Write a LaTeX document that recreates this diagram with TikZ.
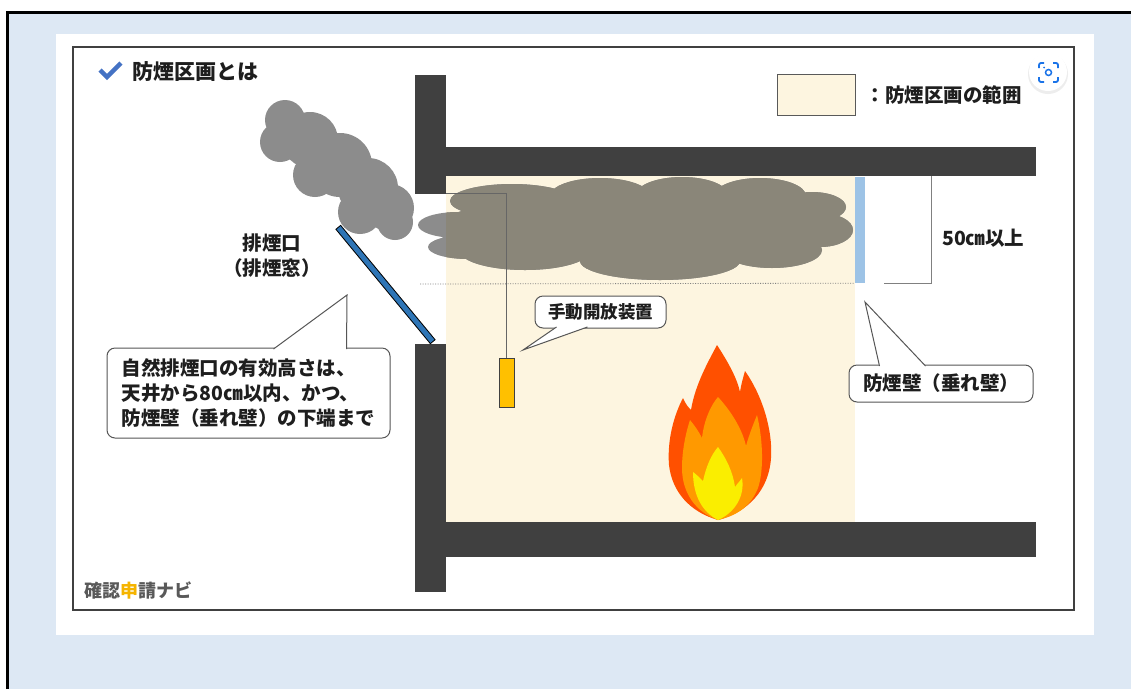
\documentclass[tikz,border=0pt]{standalone}
\usepackage{fontspec}
\setmainfont{Noto Sans CJK JP}
\usetikzlibrary{positioning, calc}
\definecolor{bgblue}{RGB}{221,232,244}
\definecolor{wallgray}{RGB}{64,64,64}
\definecolor{zonebeige}{RGB}{253,245,224}
\definecolor{smokegray}{RGB}{140,140,140}
\definecolor{smokebrown}{RGB}{138,134,121}
\definecolor{curtainblue}{RGB}{157,195,230}
\definecolor{ventblue}{RGB}{46,117,182}
\definecolor{handleyellow}{RGB}{255,192,0}
\definecolor{checkblue}{RGB}{68,114,196}
\definecolor{lensblue}{RGB}{26,115,232}
\definecolor{flamered}{RGB}{255,80,0}
\definecolor{flameorange}{RGB}{255,153,0}
\definecolor{flameyellow}{RGB}{250,238,0}
\definecolor{txtdark}{RGB}{30,30,30}
\definecolor{logogray}{RGB}{89,89,89}
\definecolor{logoyellow}{RGB}{245,180,0}
\tikzset{
  wall/.style={fill=wallgray},
  lbl/.style={text=txtdark, inner sep=0pt, font=\bfseries\fontsize{19.5}{25}\selectfont},
  callout/.style={draw=txtdark!75, line width=1pt, fill=white, rounded corners=8pt, inner sep=0pt,
    text=txtdark, font=\bfseries\fontsize{19.5}{25}\selectfont},
  tail/.style={draw=txtdark!75, line width=1pt, fill=white},
  cord/.style={draw=wallgray!80, line width=0.8pt},
}
% lobes of the smoke layer under the ceiling
\newcommand{\ceilingsmoke}[1]{%
  \fill[#1] \foreach \cx/\cy/\rx/\ry in {512/201/62/17, 600/196/50/18, 682/195/46/18, 760/196/46/18,
      812/207/34/15, 820/230/33/17, 772/250/50/18, 660/261/80/19, 525/251/65/19,
      458/225/40/13, 468/247/40/12, 635/228/200/34}
    { (\cx,\cy) ellipse [x radius=\rx, y radius=\ry] };%
}

\begin{document}
\begin{tikzpicture}[x=1pt, y=-1pt]
  \useasboundingbox (0,0) rectangle (1131,689);
  % page and frame
  \fill[white] (0,0) rectangle (1131,689);
  \fill[bgblue] (7,12) rectangle (1131,689);
  \draw[line width=3pt] (7,689) -- (7,12) -- (1131,12);
  \fill[white] (56,34) rectangle (1094,635);
  \draw[wallgray, line width=1.2pt] (73,47) rectangle (1074,610);

  % title
  \draw[checkblue, line width=4.5pt] (100,70) -- (107,77) -- (121,63);
  \node[anchor=west, text=txtdark, inner sep=0pt, font=\bfseries\fontsize{21}{25}\selectfont] (title) at (132,72) {防煙区画とは};

  % legend
  \node[draw=logogray, fill=zonebeige, line width=0.8pt, minimum width=78pt, minimum height=41pt, inner sep=0pt] (legend) at (816,95) {};
  \node[lbl, right=10pt of legend] (legendtxt) {：防煙区画の範囲};

  % smoke compartment
  \fill[zonebeige] (446,176) rectangle (855,522);
  \ceilingsmoke{smokegray}
  \begin{scope}
    \clip (446,176) rectangle (855,522);
    \ceilingsmoke{smokebrown}
  \end{scope}

  % smoke leaving through the vent
  \fill[smokegray] \foreach \cx/\cy/\r in {285/120/20, 280/142/20, 310/140/28, 340/165/32, 368/188/30,
      390/208/24, 395/222/18, 360/212/22, 315/175/22}
    { (\cx,\cy) circle [radius=\r] };

  % walls, ceiling and floor
  \fill[wall] (415,75) rectangle (446,194);
  \fill[wall] (446,147) rectangle (1036,176);
  \fill[wall] (415,344) rectangle (446,592);
  \fill[wall] (446,522) rectangle (1036,557);

  % hanging wall and its depth
  \node[fill=curtainblue, minimum width=10pt, minimum height=106pt, inner sep=0pt] (curtain) at (860,230) {};
  \draw[gray, line width=0.8pt, dash pattern=on 1pt off 1.5pt] (420,284) -- (curtain.south west);
  \coordinate (dimtop) at (931,176);
  \draw[gray, line width=0.9pt] (884,283) -| (dimtop);
  \node[lbl, anchor=west] (dimlbl) at (942,238) {50㎝以上};

  % vent window
  \coordinate (venttop) at (338,227);
  \coordinate (ventbot) at (433,342);
  \draw[line width=7pt] (venttop) -- (ventbot);
  \draw[ventblue, line width=5pt, shorten <=1pt, shorten >=1pt] (venttop) -- (ventbot);
  \node[lbl, align=center] (ventlbl) at (272,256) {排煙口\\（排煙窓）};

  % manual release
  \node[draw=wallgray, fill=handleyellow, line width=0.8pt, minimum width=15pt, minimum height=49pt, inner sep=0pt] (handle) at (506.5,382.5) {};
  \coordinate (hook) at (446,193);
  \draw[cord] (hook) -| (handle.north);

  % fire
  \fill[flamered] (718,520) .. controls (690,512) and (672,492) .. (669,465)
    .. controls (667,440) and (674,415) .. (683,398)
    .. controls (686,405) and (689,408) .. (691,410)
    .. controls (695,385) and (708,362) .. (717,345)
    .. controls (728,362) and (737,378) .. (740,392)
    .. controls (741,385) and (743,378) .. (745,371)
    .. controls (762,395) and (773,430) .. (771,458)
    .. controls (769,490) and (748,512) .. (718,520) -- cycle;
  \fill[flameorange] (718,520) .. controls (695,512) and (682,492) .. (682,468)
    .. controls (682,450) and (686,432) .. (690,420)
    .. controls (695,426) and (699,432) .. (702,438)
    .. controls (704,420) and (711,405) .. (718,397)
    .. controls (730,410) and (742,428) .. (746,446)
    .. controls (749,435) and (753,425) .. (757,415)
    .. controls (763,440) and (764,470) .. (758,488)
    .. controls (750,508) and (735,516) .. (718,520) -- cycle;
  \fill[flameyellow] (718,520) .. controls (702,512) and (693,495) .. (693,472)
    .. controls (697,475) and (700,478) .. (703,481)
    .. controls (706,467) and (711,455) .. (718,447)
    .. controls (726,458) and (733,472) .. (735,487)
    .. controls (737,484) and (740,481) .. (742,478)
    .. controls (745,495) and (736,512) .. (718,520) -- cycle;

  % callouts
  \node[callout, minimum width=283pt, minimum height=90pt, align=left] (note) at (248.5,393)
    {自然排煙口の有効高さは、\\天井から80㎝以内、かつ、\\防煙壁（垂れ壁）の下端まで};
  \coordinate (notetip) at (347,295);
  \filldraw[tail] ($(note.north west)+(167,1.5)$) -- (notetip) -- ($(note.north west)+(240,1.5)$);

  \node[callout, minimum width=131pt, minimum height=32pt, font=\bfseries\fontsize{17.5}{22}\selectfont] (handlelbl) at (600.5,312) {手動開放装置};
  \coordinate (handletip) at (523,350);
  \filldraw[tail] ($(handlelbl.south west)+(22,-1.5)$) -- (handletip) -- ($(handlelbl.south west)+(53,-1.5)$);

  \node[callout, minimum width=184pt, minimum height=37pt] (curtainlbl) at (941,383.5) {防煙壁（垂れ壁）};
  \coordinate (curtaintip) at (865,302);
  \filldraw[tail] ($(curtainlbl.north west)+(31,1.5)$) -- (curtaintip) -- ($(curtainlbl.north west)+(77,1.5)$);

  % logo
  \node[anchor=west, inner sep=0pt, text=logogray, font=\bfseries\fontsize{18}{22}\selectfont] (logo) at (84,590)
    {確認\textcolor{logoyellow}{申}請ナビ};

  % lens button
  \fill[black!7] (1048,74) circle [radius=20];
  \node[circle, fill=white, minimum size=38pt, inner sep=0pt] (lens) at (1048,72) {};
  \begin{scope}[lensblue, line width=1.8pt, rounded corners=2pt]
    \draw (1039,68) -- (1039,63) -- (1044,63);
    \draw (1053,63) -- (1058,63) -- (1058,68);
    \draw (1058,77) -- (1058,82) -- (1053,82);
    \draw (1044,82) -- (1039,82) -- (1039,77);
  \end{scope}
  \draw[lensblue, line width=1.5pt] (lens.center) ++(0.5,0.5) circle [radius=3];
  \fill[lensblue] (1044,67.5) circle [radius=1];
\end{tikzpicture}
\end{document}
